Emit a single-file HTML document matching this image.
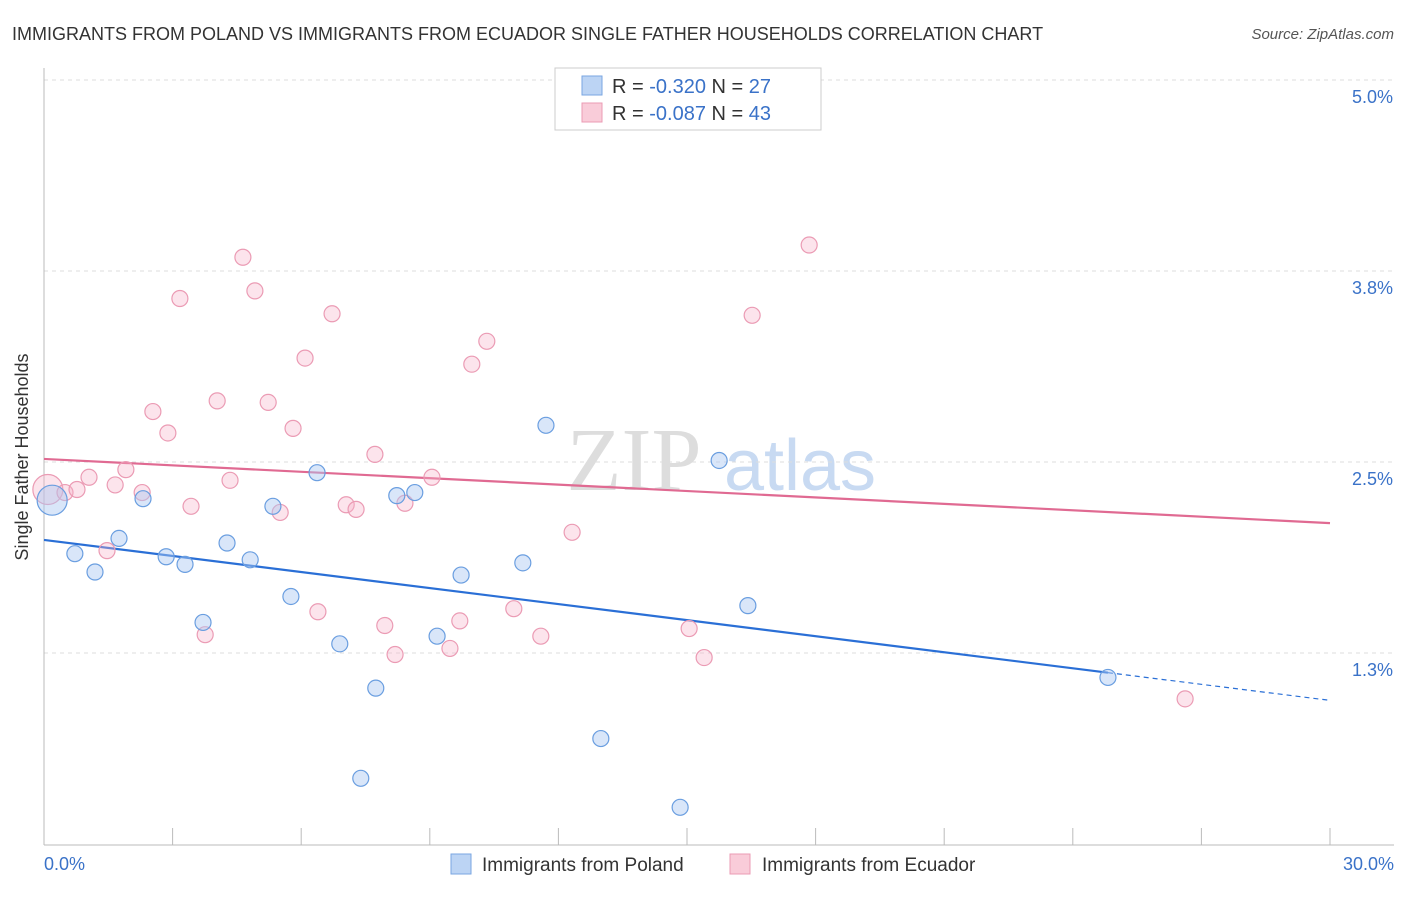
<!DOCTYPE html>
<html><head><meta charset="utf-8"><style>
body{margin:0;background:#fff;font-family:"Liberation Sans",sans-serif}
</style></head><body>
<svg width="1406" height="892" viewBox="0 0 1406 892" xmlns="http://www.w3.org/2000/svg">
<text x="12" y="40" font-size="18" fill="#333">IMMIGRANTS FROM POLAND VS IMMIGRANTS FROM ECUADOR SINGLE FATHER HOUSEHOLDS CORRELATION CHART</text>
<text x="1394" y="39" font-size="15" fill="#555" text-anchor="end" font-style="italic">Source: ZipAtlas.com</text>
<g>
<text x="634" y="490" font-size="90" fill="#ddd" font-family="Liberation Serif,serif" text-anchor="middle">ZIP</text>
<text x="800" y="490" font-size="72" fill="#c8daf2" text-anchor="middle">atlas</text>
</g>
<g id="grid"></g>
<g id="axes"></g>
<g id="lines"></g>
<g id="pts"></g>
<text x="28" y="457" font-size="18" fill="#333" text-anchor="middle" transform="rotate(-90 28 457)">Single Father Households</text>
<text x="44" y="870" font-size="18" fill="#3a72c8">0.0%</text>
<text x="1394" y="870" font-size="18" fill="#3a72c8" text-anchor="end">30.0%</text>
<g>
<rect x="555" y="68" width="266" height="62" fill="#fff" stroke="#ccc"/>
<rect x="582" y="76" width="20" height="19" fill="#bcd4f4" stroke="#7aa6e2"/>
<rect x="582" y="103" width="20" height="19" fill="#f9ccd9" stroke="#eb9bb4"/>
<text x="612" y="93" font-size="20" fill="#333">R = <tspan fill="#3a72c8">-0.320</tspan>   N = <tspan fill="#3a72c8">27</tspan></text>
<text x="612" y="120" font-size="20" fill="#333">R = <tspan fill="#3a72c8">-0.087</tspan>   N = <tspan fill="#3a72c8">43</tspan></text>
</g>
<g>
<rect x="451" y="854" width="20" height="20" fill="#bcd4f4" stroke="#7aa6e2"/>
<text x="482" y="871" font-size="19" fill="#333">Immigrants from Poland</text>
<rect x="730" y="854" width="20" height="20" fill="#f9ccd9" stroke="#eb9bb4"/>
<text x="762" y="871" font-size="19" fill="#333">Immigrants from Ecuador</text>
</g>
</svg>
<script>
const yTicks=[1.25,2.5,3.75,5.0];
const yTickLabels=["1.3%","2.5%","3.8%","5.0%"];
const polandX=[0.19,0.72,1.19,1.75,2.31,2.85,3.29,3.71,4.27,4.81,5.34,5.76,6.37,6.90,7.39,7.74,8.23,8.65,9.17,9.73,11.17,11.71,12.99,14.84,15.75,16.42,24.82];
const polandY=[2.25,1.90,1.78,2.00,2.26,1.88,1.83,1.45,1.97,1.86,2.21,1.62,2.43,1.31,0.43,1.02,2.28,2.30,1.36,1.76,1.84,2.74,0.69,0.24,2.51,1.56,1.09];
const ecuadorX=[0.09,0.49,0.77,1.05,1.47,1.66,1.91,2.29,2.54,2.89,3.17,3.43,3.76,4.04,4.34,4.64,4.92,5.23,5.51,5.81,6.09,6.39,6.72,7.05,7.28,7.72,7.95,8.19,8.42,9.05,9.47,9.70,9.98,10.33,10.96,11.59,12.32,15.05,15.40,16.19,16.52,17.85,26.62];
const ecuadorY=[2.32,2.30,2.32,2.40,1.92,2.35,2.45,2.30,2.83,2.69,3.57,2.21,1.37,2.90,2.38,3.84,3.62,2.89,2.17,2.72,3.18,1.52,3.47,2.22,2.19,2.55,1.43,1.24,2.23,2.40,1.28,1.46,3.14,3.29,1.54,1.36,2.04,1.41,1.22,4.87,3.46,3.92,0.95];
const polandTrend=[1.99,0.94];
const ecuadorTrend=[2.52,2.10];
const NS="http://www.w3.org/2000/svg";
const X0=44,X1=1330,Y0=844,PPU=152.8;
function sx(v){return X0+(v/30)*(X1-X0);}
function sy(v){return Y0-v*PPU;}
function mk(tag,attrs,parent){const e=document.createElementNS(NS,tag);for(const k in attrs)e.setAttribute(k,attrs[k]);document.getElementById(parent).appendChild(e);return e;}
yTicks.forEach((t,i)=>{
  const g=mk('line',{x1:X0,x2:1394,y1:sy(t),y2:sy(t),stroke:'#ddd','stroke-dasharray':'4,4'},'grid');
  
  
  const l=mk('text',{x:1393,y:sy(t)+23,'font-size':18,fill:'#3a72c8','text-anchor':'end'},'grid');
  l.textContent=yTickLabels[i];
  
  
});
const ax=mk('line',{x1:X0,x2:X0,y1:68,y2:845,stroke:'#bbb'},'axes');


const bx=mk('line',{x1:X0,x2:1394,y1:845,y2:845,stroke:'#bbb'},'axes');


for(let i=0;i<=10;i++){
  const t=mk('line',{x1:sx(i*3),x2:sx(i*3),y1:828,y2:845,stroke:'#bbb'},'axes');
  
  
}
function pts(xs,ys,fill,stroke,name){
  xs.forEach((x,i)=>{
    const r=(i===0)?15:8;
    const c=mk('circle',{cx:sx(x),cy:sy(ys[i]),r:r,fill:fill,stroke:stroke,'stroke-width':1.2},'pts');
    
    
  });
}
pts(ecuadorX,ecuadorY,'rgba(246,178,200,0.35)','#eb9bb4','point-ecuador');
pts(polandX,polandY,'rgba(170,200,242,0.45)','#6a9ee0','point-poland');
function yAt(tr,x){return tr[0]+(tr[1]-tr[0])*x/30;}
const pl=mk('line',{x1:sx(0),y1:sy(ecuadorTrend[0]),x2:sx(30),y2:sy(ecuadorTrend[1]),stroke:'#e06a92','stroke-width':2.2},'lines');


const bl=mk('line',{x1:sx(0),y1:sy(polandTrend[0]),x2:sx(24.82),y2:sy(yAt(polandTrend,24.82)),stroke:'#2a6fd6','stroke-width':2.2},'lines');


const bd=mk('line',{x1:sx(24.82),y1:sy(yAt(polandTrend,24.82)),x2:sx(30),y2:sy(polandTrend[1]),stroke:'#2a6fd6','stroke-width':1.2,'stroke-dasharray':'5,4'},'lines');


</script>
</body></html>
